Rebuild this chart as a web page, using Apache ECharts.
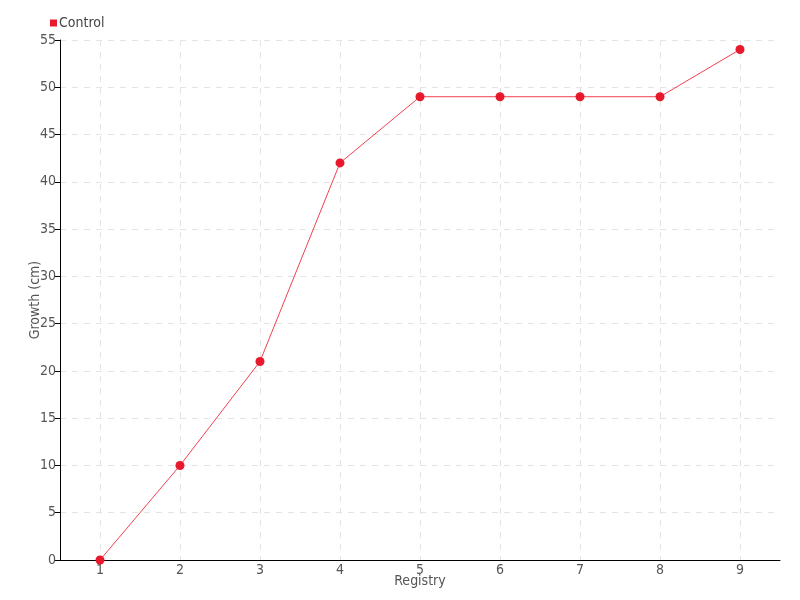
<!DOCTYPE html>
<html><head><meta charset="utf-8">
<script src="https://cdn.jsdelivr.net/npm/echarts@6/dist/echarts.min.js"></script>
<style>html,body{margin:0;padding:0;background:#fff}#c{width:800px;height:600px}</style>
</head><body><div id="c"></div>
<script>
const categories = ['1','2','3','4','5','6','7','8','9'];
const control = [0, 10, 21, 42, 49, 49, 49, 49, 54];
const FONT = '"DejaVu Sans Condensed", "DejaVu Sans", sans-serif';
const chart = echarts.init(document.getElementById('c'));
chart.setOption({
  animation: false,
  textStyle: {fontFamily: FONT},
  legend: {
    left: 45, top: 11, itemWidth: 7, itemHeight: 7, itemGap: 4,
    icon: 'rect',
    textStyle: {fontFamily: FONT, fontSize: 14, color: '#444', padding: [0,0,0,-3]},
    data: ['Control']
  },
  grid: {left: 60, right: 20, top: 40, bottom: 40},
  xAxis: {
    type: 'category', data: categories, boundaryGap: true,
    name: 'Registry', nameLocation: 'middle', nameGap: 14, nameMoveOverlap: false,
    nameTextStyle: {fontFamily: FONT, fontSize: 14, color: '#555'},
    axisLine: {lineStyle: {color: '#000', width: 1}},
    axisTick: {alignWithLabel: true, length: 5, lineStyle: {color: '#000'}},
    axisLabel: {fontFamily: FONT, fontSize: 14, color: '#555', margin: 3},
    splitLine: {show: true, alignWithLabel: true, lineStyle: {color: '#e4e4e4', type: [6, 6]}}
  },
  yAxis: {
    type: 'value', min: 0, max: 55, interval: 5,
    name: 'Growth (cm)', nameLocation: 'middle', nameGap: 18, nameMoveOverlap: false,
    nameTextStyle: {fontFamily: FONT, fontSize: 14, color: '#555'},
    axisLine: {show: true, lineStyle: {color: '#000', width: 1}},
    axisTick: {show: true, length: 5, lineStyle: {color: '#000'}},
    axisLabel: {fontFamily: FONT, fontSize: 14, color: '#555', margin: 4},
    splitLine: {show: true, lineStyle: {color: '#e4e4e4', type: [6, 6]}}
  },
  series: [{
    name: 'Control', type: 'line', data: control,
    symbol: 'circle', symbolSize: 9,
    itemStyle: {color: '#e8192c'},
    lineStyle: {color: '#f2404f', width: 1}
  }]
});
</script></body></html>
